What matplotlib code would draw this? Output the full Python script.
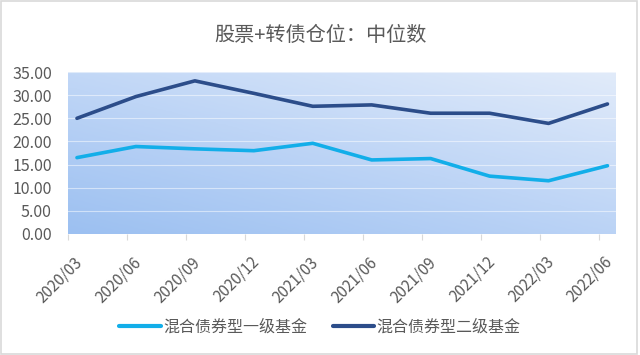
import matplotlib
matplotlib.use("Agg")
import matplotlib.pyplot as plt
import numpy as np
from matplotlib.colors import LinearSegmentedColormap
from matplotlib.patches import Rectangle
from matplotlib.transforms import ScaledTranslation

plt.rcParams['font.family'] = ['Noto Sans CJK SC', 'DejaVu Sans']

categories = ["2020/03", "2020/06", "2020/09", "2020/12", "2021/03",
              "2021/06", "2021/09", "2021/12", "2022/03", "2022/06"]
series1_name = "混合债券型一级基金"
series2_name = "混合债券型二级基金"
series1 = [16.5, 18.9, 18.4, 18.0, 19.6, 16.0, 16.3, 12.5, 11.5, 14.75]
series2 = [25.0, 29.7, 33.1, 30.4, 27.6, 27.9, 26.1, 26.1, 23.9, 28.1]
yticks = [0, 5, 10, 15, 20, 25, 30, 35]
title = "股票+转债仓位：中位数"

fig = plt.figure(figsize=(6.4, 3.55), dpi=100)
fig.patch.set_facecolor('white')
fig.add_artist(Rectangle((0.002, 0.003), 0.994, 0.994, transform=fig.transFigure,
                         fill=False, edgecolor='#d9d9d9', linewidth=1.2))

ax = fig.add_axes([0.107, 0.341, 0.856, 0.456])
x = np.arange(len(categories))
off = 0.144
ax.set_xlim(-off, len(categories) - 1 + 0.15)
ax.set_ylim(0, 35)

# gradient background
ny, nx = 100, 100
gx = np.linspace(0, 1, nx)[None, :]
gy = np.linspace(0, 1, ny)[:, None]
t = 0.45 * gx + 0.55 * gy  # 0 bottom-left, 1 top-right
cmap = LinearSegmentedColormap.from_list('g', ['#9cc0f1', '#bed5f6', '#e1ebfa'])
ax.imshow(t, cmap=cmap, origin='lower', aspect='auto',
          extent=[-off, len(categories) - 1 + 0.15, 0, 35], zorder=0)

for yv in yticks[1:]:
    ax.axhline(yv, color='white', alpha=0.5, linewidth=0.8, zorder=1)

ax.plot(x, series1, color='#12aee9', linewidth=2.6, solid_capstyle='round',
        label=series1_name, zorder=3)
ax.plot(x, series2, color='#2c4d8a', linewidth=2.6, solid_capstyle='round',
        label=series2_name, zorder=3)

for s in ax.spines.values():
    s.set_visible(False)
ax.set_yticks(yticks)
ax.set_yticklabels([f"{v:.2f}" for v in yticks], fontsize=11.5, color='#595959')
ax.set_xticks(x - off)
ax.set_xticklabels(categories, rotation=45, ha='right', va='center',
                   rotation_mode='anchor', fontsize=11, color='#595959')
ax.tick_params(axis='y', length=0, pad=12)
ax.tick_params(axis='x', length=4, color='#d9d9d9', pad=0)
shift = ScaledTranslation(11 / 100, -20 / 100, fig.dpi_scale_trans)
for lab in ax.get_xticklabels():
    lab.set_transform(lab.get_transform() + shift)

fig.text(0.5, 0.9, title, ha='center', va='center', fontsize=14.5, color='#595959')

leg = fig.legend(loc='center', bbox_to_anchor=(0.5, 0.078), ncol=2, frameon=False,
                 fontsize=11.5, handlelength=2.6, columnspacing=1.6, handletextpad=0.15)
for txt in leg.get_texts():
    txt.set_color('#595959')
for line in leg.get_lines():
    line.set_linewidth(3)

fig.savefig('out.png', dpi=100)
